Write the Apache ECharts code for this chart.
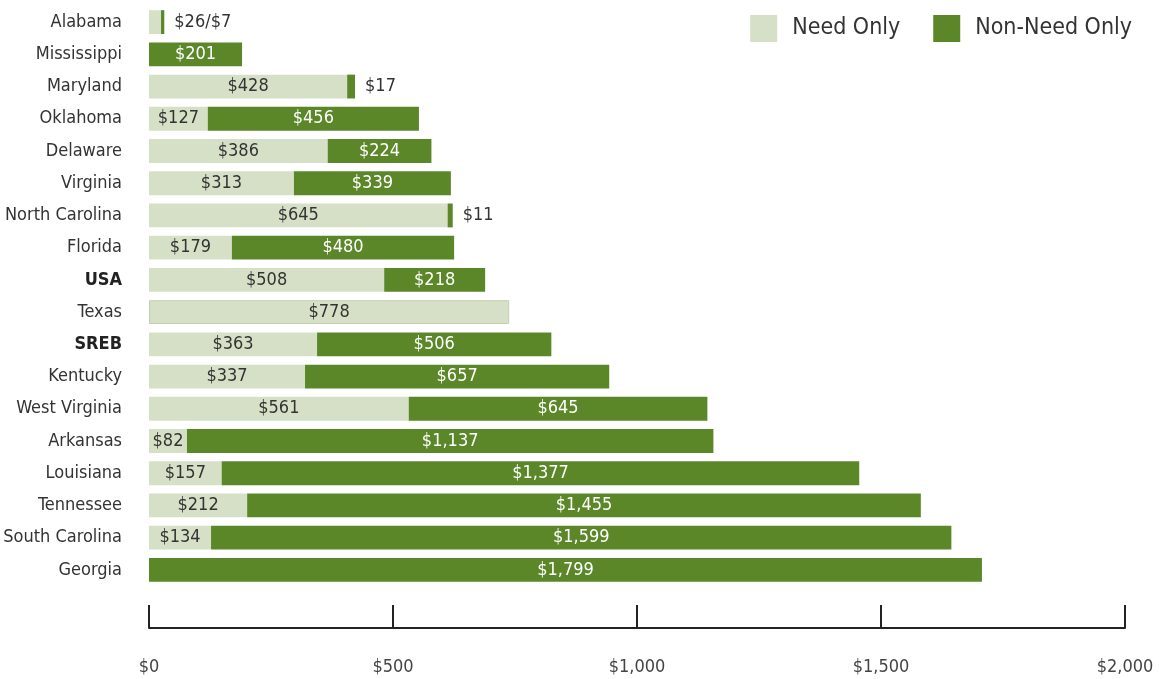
<!DOCTYPE html>
<html>
<head>
<meta charset="utf-8">
<script src="https://cdn.jsdelivr.net/npm/echarts@6/dist/echarts.min.js"></script>
<style>
  html, body { margin: 0; padding: 0; background: #fff; }
  #chart { width: 1159px; height: 679px; }
</style>
</head>
<body>
<div id="chart"></div>
<script>
const states = ['Alabama', 'Mississippi', 'Maryland', 'Oklahoma', 'Delaware', 'Virginia',
  'North Carolina', 'Florida', 'USA', 'Texas', 'SREB', 'Kentucky', 'West Virginia',
  'Arkansas', 'Louisiana', 'Tennessee', 'South Carolina', 'Georgia']
const needOnly = [26, 0, 428, 127, 386, 313, 645, 179, 508, 778, 363, 337, 561, 82, 157, 212, 134, 0]
const nonNeedOnly = [7, 201, 17, 456, 224, 339, 11, 480, 218, 0, 506, 657, 645, 1137, 1377, 1455, 1599, 1799]
const xTicks = [0, 500, 1000, 1500, 2000]
const boldRows = ['USA', 'SREB']

const FONT = '"Liberation Sans Narrow", "DejaVu Sans Condensed", Roboto, sans-serif'
const LIGHT = '#d6e0c6'
const DARK = '#5b8728'
const TEXT = '#333333'

const money = v => '$' + v.toLocaleString('en-US')

const needData = needOnly.map((v, i) => ({
  value: v,
  itemStyle: states[i] === 'Texas' ? { borderColor: '#c3cfb2', borderWidth: 1 } : undefined,
  label: { show: v >= 60 }
}))

// tiny non-need segments get their label outside the bar
const nonNeedData = nonNeedOnly.map((v, i) => {
  const small = v > 0 && v < 40
  let text = money(v)
  if (small && needOnly[i] > 0 && needOnly[i] < 60) text = money(needOnly[i]) + '/' + money(v)
  return {
    value: v,
    label: small
      ? { show: true, position: 'right', distance: 10, color: TEXT, formatter: text }
      : { show: v > 0 }
  }
})

const chart = echarts.init(document.getElementById('chart'))
chart.setOption({
  animation: false,
  textStyle: { fontFamily: FONT },
  legend: {
    top: 10,
    right: 22,
    itemWidth: 27,
    itemHeight: 27,
    itemGap: 33,
    icon: 'rect',
    textStyle: { fontSize: 23, color: TEXT, fontFamily: FONT, padding: [0, 0, 0, 10] },
    data: ['Need Only', 'Non-Need Only']
  },
  grid: { left: 149, right: 34, top: 6, height: 580 },
  xAxis: [
    { type: 'value', min: 0, max: 2108, show: false },
    {
      type: 'value',
      position: 'bottom',
      offset: 42,
      min: 0,
      max: 2000,
      interval: 500,
      splitLine: { show: false },
      axisLine: { show: true, lineStyle: { color: '#222', width: 2 } },
      axisTick: { show: true, inside: true, length: 23, lineStyle: { color: '#222', width: 2 } },
      axisLabel: {
        margin: 30,
        fontSize: 18,
        color: '#444',
        fontFamily: FONT,
        formatter: v => (xTicks.includes(v) ? money(v) : '')
      }
    }
  ],
  yAxis: {
    type: 'category',
    inverse: true,
    data: states,
    axisLine: { show: false },
    axisTick: { show: false },
    axisLabel: {
      margin: 27,
      fontSize: 18,
      color: TEXT,
      fontFamily: FONT,
      formatter: v => (boldRows.includes(v) ? '{b|' + v + '}' : v),
      rich: { b: { fontWeight: 'bold', fontSize: 18, color: '#222', fontFamily: FONT } }
    }
  },
  series: [
    {
      name: 'Need Only',
      type: 'bar',
      stack: 'aid',
      xAxisIndex: 0,
      barWidth: '74%',
      itemStyle: { color: LIGHT },
      label: {
        show: true,
        position: 'inside',
        color: TEXT,
        fontSize: 18,
        fontFamily: FONT,
        formatter: p => money(p.value)
      },
      data: needData
    },
    {
      name: 'Non-Need Only',
      type: 'bar',
      stack: 'aid',
      xAxisIndex: 0,
      barWidth: '74%',
      itemStyle: { color: DARK },
      label: {
        show: true,
        position: 'inside',
        color: '#ffffff',
        fontSize: 18,
        fontFamily: FONT,
        formatter: p => money(p.value)
      },
      data: nonNeedData
    }
  ]
})
</script>
</body>
</html>
